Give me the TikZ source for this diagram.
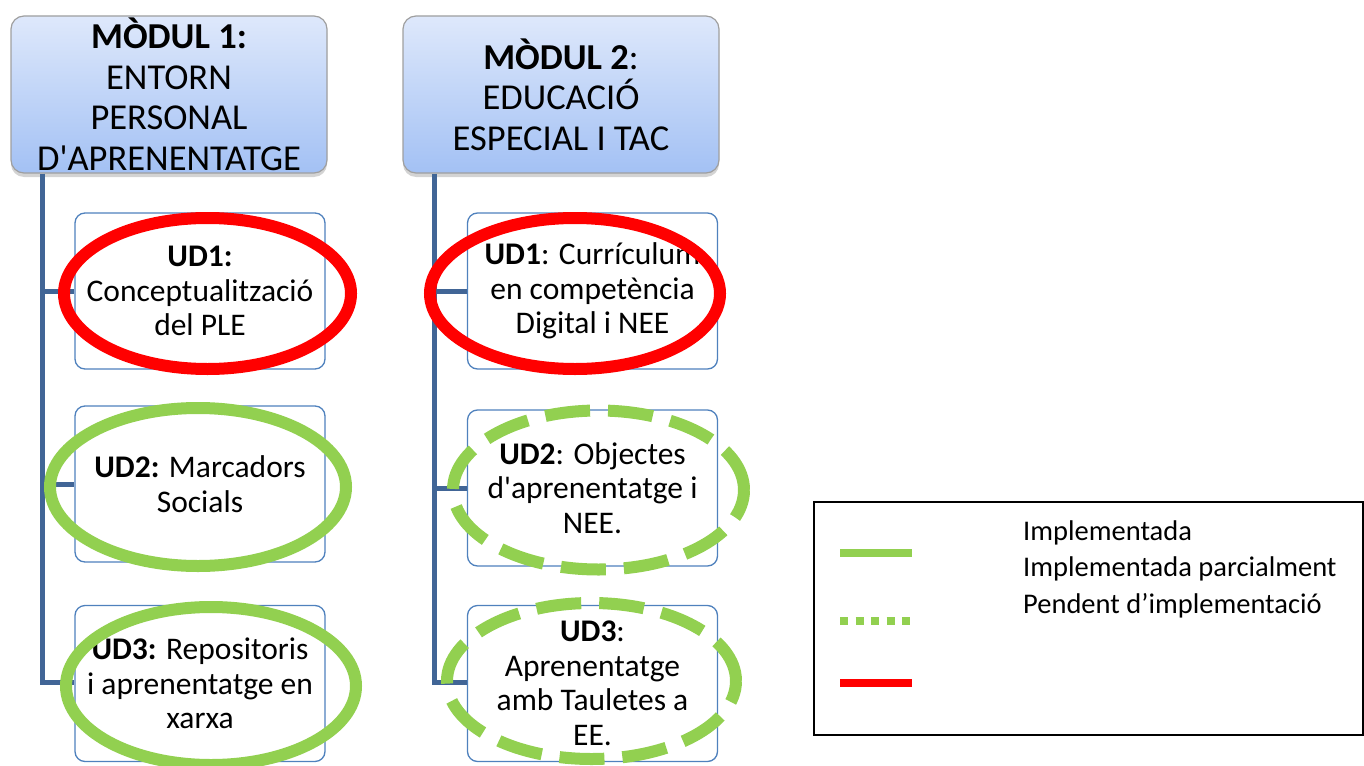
\documentclass[tikz,border=0pt]{standalone}
\usepackage{fontspec}
\setmainfont{Carlito}[Ligatures=TeXOff]
\usetikzlibrary{positioning, shapes.geometric, shadows}

\definecolor{trunkblue}{RGB}{65,101,150}
\definecolor{udblue}{RGB}{79,129,189}
\definecolor{headtop}{RGB}{222,232,251}
\definecolor{headbot}{RGB}{163,193,244}
\definecolor{ringred}{RGB}{255,0,0}
\definecolor{ringgreen}{RGB}{146,208,80}

\begin{document}
\begin{tikzpicture}[x=1pt,y=-1pt,
            modul/.style={draw=gray!75, line width=1.2pt, rounded corners=13pt,
              top color=headtop, bottom color=headbot,
              minimum width=316pt, minimum height=157pt, inner sep=0pt, align=center,
              font=\fontsize{36.5}{40.5}\selectfont,
              drop shadow={opacity=0.35, shadow xshift=0pt, shadow yshift=-4pt}},
            unit/.style={draw=udblue, line width=1.3pt, rounded corners=10pt, fill=white,
              minimum width=250pt, minimum height=156pt, inner sep=0pt, align=center,
              font=\fontsize{31.5}{34.5}\selectfont},
            ring/.style={ellipse, draw=#1, line width=12pt, inner sep=0pt},
            trunk/.style={draw=trunkblue, line width=5pt}]
            \useasboundingbox (0,0) rectangle (1364,765);

            % the two modules
            \node[modul] (m1) at (169,94.5) {\textbf{MÒDUL 1:}\\ENTORN\\PERSONAL\\D'APRENENTATGE};
            \node[modul] (m2) at (561,94.5) {\textbf{MÒDUL 2}:\\EDUCACIÓ\\ESPECIAL I TAC};

            % units of module 1
            \node[unit] (u11) at (200,291)   {\textbf{UD1:}\\Conceptualització\\del PLE};
            \node[unit] (u12) at (200,484)   {\textbf{UD2:} Marcadors\\Socials};
            \node[unit] (u13) at (200,683.5) {\textbf{UD3:} Repositoris\\i aprenentatge en\\xarxa};

            % units of module 2
            \node[unit] (u21) at (592.5,291)   {\textbf{UD1}: Currículum\\en competència\\Digital i NEE};
            \node[unit] (u22) at (592.5,488)   {\textbf{UD2}: Objectes\\d'aprenentatge i\\NEE.};
            \node[unit] (u23) at (592.5,683.5) {\textbf{UD3}:\\Aprenentatge\\amb Tauletes a\\EE.};

            % trunks
            \coordinate (t1) at ([xshift=32pt]m1.south west);
            \coordinate (t2) at ([xshift=32pt]m2.south west);
            \draw[trunk] (t1) |- ([yshift=1.5pt]u13.west);
            \draw[trunk] (t1 |- u11.west) -- (u11.west);
            \draw[trunk] (t1 |- u12.west) -- (u12.west);
            \draw[trunk] (t2) |- ([yshift=1.5pt]u23.west);
            \draw[trunk] (t2 |- u21.west) -- (u21.west);
            \draw[trunk] (t2 |- u22.west) -- (u22.west);

            % state rings
            \node[ring=ringred, minimum width=287pt, minimum height=151pt] (r11) at (207.5,293.5) {};
            \node[ring=ringred, minimum width=290pt, minimum height=151pt] (r21) at (575,293.5) {};
            \node[ring=ringgreen, minimum width=296pt, minimum height=158pt] (r12) at (198,487) {};
            \node[ring=ringgreen, minimum width=290pt, minimum height=158pt] (r13) at (211,686) {};
            \node[ring=ringgreen, dash pattern=on 45pt off 18pt, minimum width=291pt, minimum height=159pt] (r22) at (598.5,490) {};
            \node[ring=ringgreen, dash pattern=on 45pt off 18pt, minimum width=289pt, minimum height=156pt] (r23) at (591.5,681) {};

            % legend
            \draw[line width=2pt] (814,502) rectangle (1362.5,735);
            \draw[ringgreen, line width=8pt] (840,553) -- (912,553);
            \draw[ringgreen, line width=8pt, dash pattern=on 8pt off 7.5pt] (840,621) -- (914,621);
            \draw[ringred, line width=8pt] (840,683) -- (912,683);
            \node[anchor=west, align=left, inner sep=0pt, font=\fontsize{28.5}{36.5}\selectfont] (leg) at (1023,569)
              {Implementada\\Implementada parcialment\\Pendent d’implementació};
\end{tikzpicture}
\end{document}
